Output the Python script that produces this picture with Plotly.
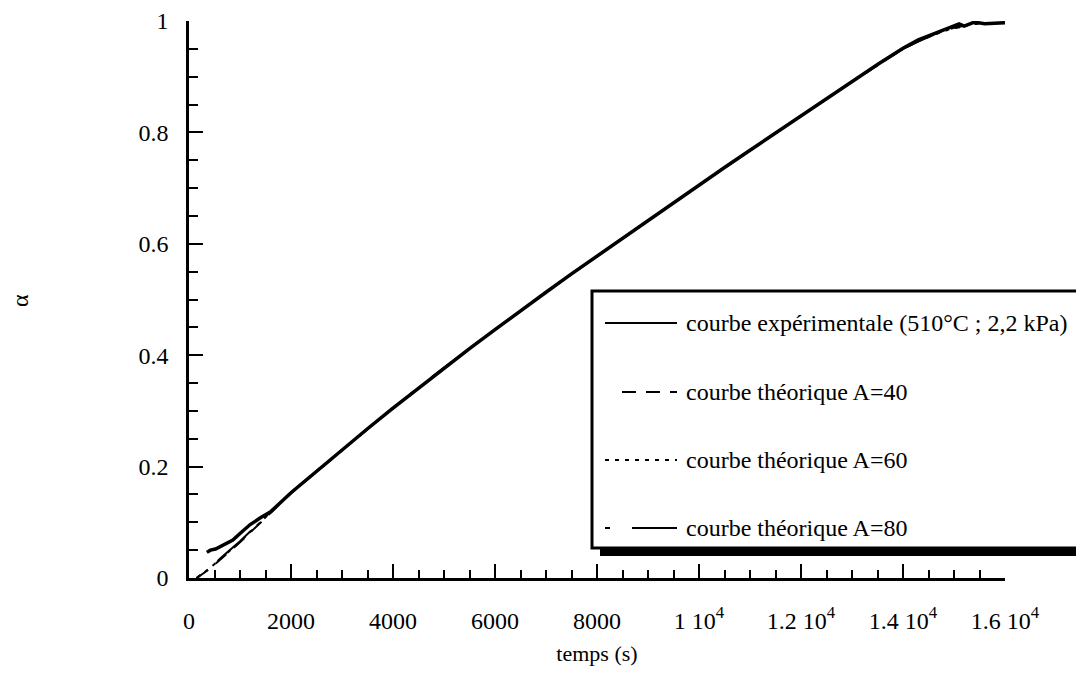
import plotly.graph_objects as go

# ---------------- data ----------------
t_exp = [350, 420, 520, 650, 860, 1000, 1200, 1400, 1600, 2000, 2500, 3000, 3500, 4000,
         4500, 5000, 5500, 6000, 6500, 7000, 7500, 8000, 8500, 9000, 9500, 10000,
         10500, 11000, 11500, 12000, 12500, 13000, 13500, 14000, 14300, 14600, 14800, 15000,
         15100, 15200, 15400, 15600, 16000]
a_exp = [0.046, 0.050, 0.052, 0.058, 0.068, 0.080, 0.096, 0.108, 0.119, 0.153, 0.192, 0.230,
         0.268, 0.305, 0.341, 0.377, 0.412, 0.446, 0.480, 0.513, 0.546, 0.578, 0.610, 0.642,
         0.674, 0.705, 0.737, 0.768, 0.799, 0.830, 0.861, 0.891, 0.922, 0.951, 0.966, 0.977,
         0.984, 0.990, 0.995, 0.991, 0.998, 0.995, 0.997]

t_theo = [150, 400, 700, 1000, 1500, 2000, 3000, 4000, 5000, 6000, 7000, 8000, 9000,
          10000, 11000, 12000, 13000, 13500, 14000, 14300, 14600, 15000, 15500]
a_40 = [0.000, 0.016, 0.040, 0.064, 0.108, 0.152, 0.229, 0.305, 0.377, 0.446, 0.513, 0.578,
        0.642, 0.705, 0.768, 0.830, 0.891, 0.921, 0.950, 0.964, 0.976, 0.988, 0.996]
a_60 = [0.000, 0.017, 0.041, 0.065, 0.109, 0.153, 0.230, 0.305, 0.377, 0.446, 0.513, 0.578,
        0.642, 0.705, 0.768, 0.830, 0.891, 0.921, 0.950, 0.964, 0.975, 0.988, 0.996]
a_80 = [0.000, 0.018, 0.042, 0.066, 0.110, 0.154, 0.230, 0.306, 0.378, 0.446, 0.513, 0.578,
        0.642, 0.705, 0.768, 0.830, 0.891, 0.921, 0.950, 0.963, 0.975, 0.987, 0.995]

x_tickvals = [0, 2000, 4000, 6000, 8000, 10000, 12000, 14000, 16000]
x_ticktext = ["0", "2000", "4000", "6000", "8000", "1 10<sup>4</sup>", "1.2 10<sup>4</sup>",
              "1.4 10<sup>4</sup>", "1.6 10<sup>4</sup>"]
y_tickvals = [0, 0.2, 0.4, 0.6, 0.8, 1]
y_ticktext = ["0", "0.2", "0.4", "0.6", "0.8", "1"]

legend_labels = ["courbe expérimentale (510°C ; 2,2 kPa)", "courbe théorique A=40",
                 "courbe théorique A=60", "courbe théorique A=80"]

# ---------------- styling ----------------
FONT = "Liberation Serif, Times New Roman, serif"
W, H = 1084, 674
OFF = 8  # page body margin offset
L, T = 189 - OFF, 21 - OFF
PW, PH = 816, 557
R, B = W - L - PW, H - T - PH

DASH_40 = "14px,10px"
DASH_60 = "4px,6px"
DASH_80 = "5px,22px,45px,22px"


def px_x(px):
    # px given in page (screenshot) coordinates
    return (px - OFF - L) / PW


def px_y(py):
    return (T + PH - (py - OFF)) / PH


fig = go.Figure()
fig.add_trace(go.Scatter(x=t_theo, y=a_40, mode="lines",
                         line=dict(color="black", width=2, dash=DASH_40), name=legend_labels[1]))
fig.add_trace(go.Scatter(x=t_theo, y=a_60, mode="lines",
                         line=dict(color="black", width=2, dash=DASH_60), name=legend_labels[2]))
fig.add_trace(go.Scatter(x=t_theo, y=a_80, mode="lines",
                         line=dict(color="black", width=2, dash=DASH_80), name=legend_labels[3]))
fig.add_trace(go.Scatter(x=t_exp, y=a_exp, mode="lines",
                         line=dict(color="black", width=3.5), name=legend_labels[0]))

axis_common = dict(
    showline=True, linecolor="black", linewidth=2.5, mirror=False,
    showgrid=False, zeroline=False,
    ticks="inside", tickcolor="black", tickwidth=2, ticklen=14,
    tickfont=dict(family=FONT, size=24, color="black"),
)

fig.update_xaxes(
    **axis_common, range=[0, 16000], tickmode="array", tickvals=x_tickvals, ticktext=x_ticktext,
    minor=dict(dtick=500, ticks="inside", ticklen=8, tickwidth=2, tickcolor="black"),
    ticklabelstandoff=19,
    title=dict(text="temps (s)", font=dict(family=FONT, size=22, color="black"), standoff=14),
)
fig.update_yaxes(
    **axis_common, range=[0, 1], tickmode="array", tickvals=y_tickvals, ticktext=y_ticktext,
    minor=dict(dtick=0.05, ticks="inside", ticklen=9, tickwidth=2, tickcolor="black"),
    ticklabelstandoff=13,
)

# y-axis title (rotated alpha)
fig.add_annotation(text="α", xref="paper", yref="paper", x=px_x(20), y=px_y(301),
                   textangle=-90, showarrow=False, xanchor="center", yanchor="middle",
                   font=dict(family=FONT, size=24, color="black"))

# ---------------- legend box drawn by hand ----------------
bx0, by0, bx1, by1 = 592, 291, 1100, 548
sh = 8
shapes = [
    dict(type="rect", xref="paper", yref="paper", x0=px_x(bx0 + sh), x1=px_x(bx1 + sh),
         y0=px_y(by1 + sh), y1=px_y(by0 + sh), fillcolor="black", line=dict(width=0), layer="above"),
    dict(type="rect", xref="paper", yref="paper", x0=px_x(bx0), x1=px_x(bx1),
         y0=px_y(by1), y1=px_y(by0), fillcolor="white", line=dict(color="black", width=3),
         layer="above"),
]
rows = [323, 392, 460, 528]
dashes = ["solid", DASH_40, DASH_60, DASH_80]
starts = [605, 622, 605, 605]
for rowy, d, s, lab in zip(rows, dashes, starts, legend_labels):
    shapes.append(dict(type="line", xref="paper", yref="paper", x0=px_x(s), x1=px_x(677),
                       y0=px_y(rowy), y1=px_y(rowy), line=dict(color="black", width=2, dash=d),
                       layer="above"))
    fig.add_annotation(text=lab, xref="paper", yref="paper", x=px_x(684), y=px_y(rowy),
                       xanchor="left", yanchor="middle", showarrow=False,
                       font=dict(family=FONT, size=24, color="black"))

fig.update_layout(
    width=W, height=H, margin=dict(l=L, r=R, t=T, b=B, autoexpand=False),
    plot_bgcolor="white", paper_bgcolor="white", showlegend=False, shapes=shapes,
    font=dict(family=FONT, color="black"),
)

fig.write_html("out.html")
